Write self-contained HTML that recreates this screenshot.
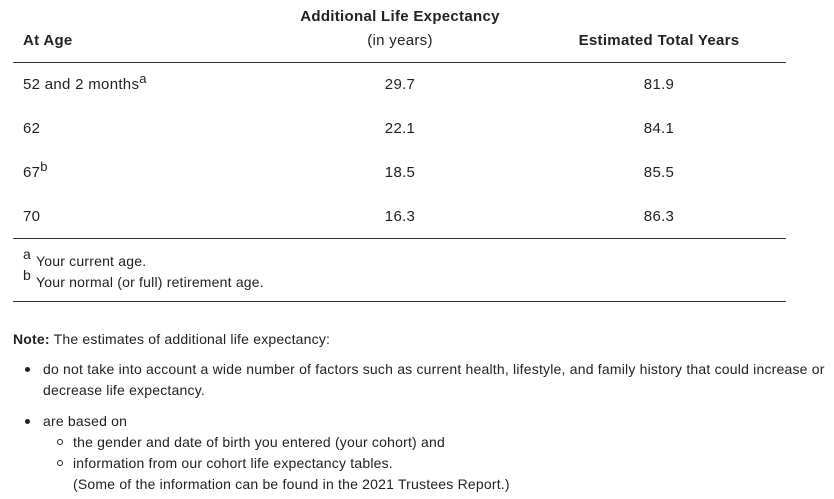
<!DOCTYPE html>
<html><head><meta charset="utf-8"><style>
body{margin:0;width:834px;height:499px;background:#fff;font-family:"Liberation Sans",sans-serif;color:#222;font-size:15px;letter-spacing:0.3px;position:relative;overflow:hidden}
.t{position:absolute;white-space:nowrap;line-height:1}
.c{transform:translateX(-50%)}
.s{font-size:14px;letter-spacing:0.2px}
b{font-weight:bold}
.hr{position:absolute;left:13px;width:773px;height:1px;background:#333}
.dot{position:absolute;width:5px;height:5px;border-radius:50%;background:#222}
.circ{position:absolute;width:4px;height:4px;border-radius:50%;border:1px solid #222}
</style></head><body>
<div class="t c" style="left:400px;top:9px"><b>Additional Life Expectancy</b></div>
<div class="t" style="left:23px;top:33px"><b>At Age</b></div>
<div class="t c" style="left:400px;top:33px">(in years)</div>
<div class="t c" style="left:659px;top:33px"><b>Estimated Total Years</b></div>
<div class="hr" style="top:62px"></div>

<div class="t" style="left:23px;top:77px">52 and 2 months<span style="position:relative;top:-6px;font-size:13px">a</span></div>
<div class="t c" style="left:400px;top:77px">29.7</div>
<div class="t c" style="left:659px;top:77px">81.9</div>

<div class="t" style="left:23px;top:121px">62</div>
<div class="t c" style="left:400px;top:121px">22.1</div>
<div class="t c" style="left:659px;top:121px">84.1</div>

<div class="t" style="left:23px;top:165px">67<span style="position:relative;top:-6px;font-size:13px">b</span></div>
<div class="t c" style="left:400px;top:165px">18.5</div>
<div class="t c" style="left:659px;top:165px">85.5</div>

<div class="t" style="left:23px;top:209px">70</div>
<div class="t c" style="left:400px;top:209px">16.3</div>
<div class="t c" style="left:659px;top:209px">86.3</div>
<div class="hr" style="top:238px"></div>

<div class="t s" style="left:23px;top:247px">a</div>
<div class="t s" style="left:36px;top:254px">Your current age.</div>
<div class="t s" style="left:23px;top:268px">b</div>
<div class="t s" style="left:36px;top:275px">Your normal (or full) retirement age.</div>
<div class="hr" style="top:301px"></div>

<div class="t s" style="left:13px;top:332px"><b>Note:</b> The estimates of additional life expectancy:</div>
<div class="dot" style="left:25px;top:367px"></div>
<div class="t s" style="left:43px;top:362px">do not take into account a wide number of factors such as current health, lifestyle, and family history that could increase or</div>
<div class="t s" style="left:43px;top:383px">decrease life expectancy.</div>
<div class="dot" style="left:25px;top:419px"></div>
<div class="t s" style="left:43px;top:414px">are based on</div>
<div class="circ" style="left:57px;top:439px"></div>
<div class="t s" style="left:73px;top:435px">the gender and date of birth you entered (your cohort) and</div>
<div class="circ" style="left:57px;top:460px"></div>
<div class="t s" style="left:73px;top:456px">information from our cohort life expectancy tables.</div>
<div class="t s" style="left:73px;top:477px">(Some of the information can be found in the 2021 Trustees Report.)</div>
</body></html>
